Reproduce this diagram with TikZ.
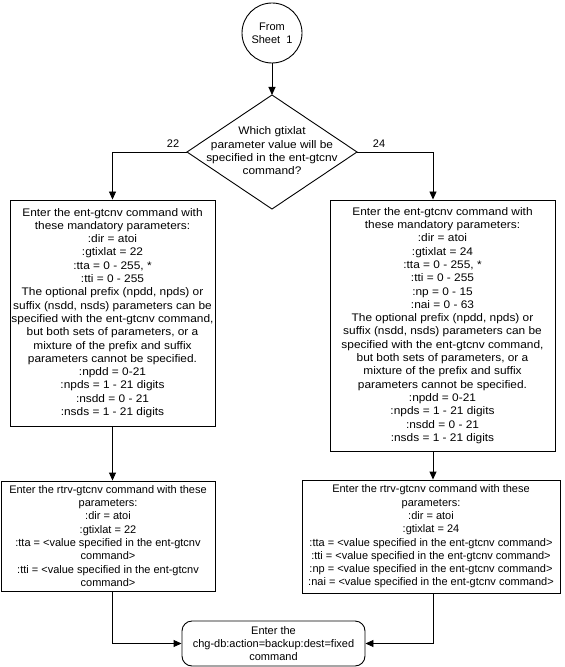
\documentclass[tikz,border=0pt]{standalone}
\usepackage{fontspec}
\setmainfont{Liberation Sans}
\newfontfamily\widesans{Liberation Sans}[FakeStretch=1.08]
\usetikzlibrary{arrows.meta}
\begin{document}
\begin{tikzpicture}[x=1bp,y=-1bp,
  txt/.style={font=\fontsize{11bp}{13.3bp}\selectfont, align=center, inner sep=0pt},
  widetxt/.style={font=\widesans\fontsize{11bp}{13.3bp}\selectfont},
  box/.style={txt, draw, line width=0.9bp},
  conn/.style={line width=0.9bp, -{Triangle[length=8bp,width=7bp]}},
  plain/.style={line width=0.9bp}]
\useasboundingbox (0,0) rectangle (565,667);
% start
\node[box, circle, minimum size=60bp] (start) at (272,33) {From\\Sheet\ \ 1};
% decision
\coordinate (qt) at (272,95);
\coordinate (qr) at (357,152);
\coordinate (qb) at (272,209);
\coordinate (ql) at (187,152);
\draw[plain] (qt) -- (qr) -- (qb) -- (ql) -- cycle;
\node[txt, widetxt] (q) at (272,151) {Which gtixlat\\parameter value will be\\specified in the ent-gtcnv\\command?};
\node[txt] (l22) at (173,144) {22};
\node[txt] (l24) at (379,144) {24};
\coordinate (rx) at (433,0);
% ent boxes
\node[box, widetxt, minimum width=205bp, minimum height=226bp] (e22) at (112.5,313) {Enter the ent-gtcnv command with\\these mandatory parameters:\\:dir = atoi\\:gtixlat = 22\\:tta = 0 - 255, *\\:tti = 0 - 255\\The optional prefix (npdd, npds) or\\suffix (nsdd, nsds) parameters can be\\specified with the ent-gtcnv command,\\but both sets of parameters, or a\\mixture of the prefix and suffix\\parameters cannot be specified.\\:npdd = 0-21\\:npds = 1 - 21 digits\\:nsdd = 0 - 21\\:nsds = 1 - 21 digits};
\node[box, widetxt, minimum width=225bp, minimum height=251bp] (e24) at (442.5,325.5) {Enter the ent-gtcnv command with\\these mandatory parameters:\\:dir = atoi\\:gtixlat = 24\\:tta = 0 - 255, *\\:tti = 0 - 255\\:np = 0 - 15\\:nai = 0 - 63\\The optional prefix (npdd, npds) or\\suffix (nsdd, nsds) parameters can be\\specified with the ent-gtcnv command,\\but both sets of parameters, or a\\mixture of the prefix and suffix\\parameters cannot be specified.\\:npdd = 0-21\\:npds = 1 - 21 digits\\:nsdd = 0 - 21\\:nsds = 1 - 21 digits};
% rtrv boxes
\node[box, minimum width=214bp, minimum height=110bp] (r22) at (108,536) {Enter the rtrv-gtcnv command with these\\parameters:\\:dir = atoi\\:gtixlat = 22\\:tta = <value specified in the ent-gtcnv\\command>\\:tti = <value specified in the ent-gtcnv\\command>};
\node[box, minimum width=258bp, minimum height=113bp] (r24) at (431,536.5) {Enter the rtrv-gtcnv command with these\\parameters:\\:dir = atoi\\:gtixlat = 24\\:tta = <value specified in the ent-gtcnv command>\\:tti = <value specified in the ent-gtcnv command>\\:np = <value specified in the ent-gtcnv command>\\:nai = <value specified in the ent-gtcnv command>};
% final
\node[box, rounded corners=10bp, minimum width=183bp, minimum height=45bp] (fin) at (273.5,643.5) {Enter the\\chg-db:action=backup:dest=fixed\\command};
% connectors
\draw[conn] (start) -- (qt);
\draw[conn] (ql) -| (e22.north);
\draw[conn] (qr) -| (rx |- e24.north);
\draw[conn] (e22.south) -- (e22.south |- r22.north);
\draw[conn] (rx |- e24.south) -- (rx |- r24.north);
\draw[conn] (e22.south |- r22.south) |- (fin.west);
\draw[conn] (rx |- r24.south) |- (fin.east);
\end{tikzpicture}
\end{document}
